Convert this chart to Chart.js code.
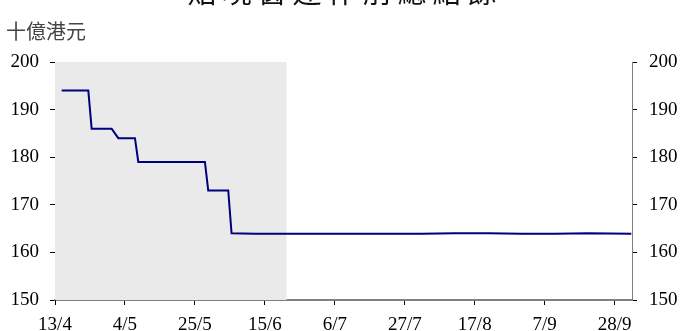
<!DOCTYPE html>
<html>
<head>
<meta charset="utf-8">
<script src="https://cdn.jsdelivr.net/npm/chart.js@4/dist/chart.umd.min.js"></script>
<style>
  html, body { margin: 0; padding: 0; background: #ffffff; }
  #wrap { position: relative; width: 681px; height: 331px; }
</style>
</head>
<body>
<div id="wrap"><canvas id="c" width="681" height="331"></canvas></div>
<script>
// Aggregate balance before discount window operations (HK$ billion)
const chartTitle = '貼現窗運作前總結餘';
const unitLabel = '十億港元';

// Day offsets counted from 13/4, and the balance on each of those days
const dayOffsets = [2, 10, 11, 17, 19, 24, 25, 45, 46, 52, 53, 60, 70, 80, 90, 100, 110, 120, 130, 140, 150, 160, 173];
const balances   = [194, 194, 186, 186, 184, 184, 179, 179, 173, 173, 164, 163.9, 163.9, 163.9, 163.9, 163.9, 163.9, 164, 164, 163.9, 163.9, 164, 163.9];

// Date labels placed every three weeks along the bottom axis
const tickLabels = ['13/4', '4/5', '25/5', '15/6', '6/7', '27/7', '17/8', '7/9', '28/9'];
const tickStepDays = 21;
const lastDay = 173.2;

// Period before the discount window was in operation (shaded)
const shadeStartDay = 0;
const shadeEndDay = 69.5;

const yMin = 150, yMax = 200, yStep = 10;

const points = dayOffsets.map((d, i) => ({ x: d, y: balances[i] }));

const shadePlugin = {
  id: 'shade',
  beforeDatasetsDraw(chart) {
    const { ctx, chartArea, scales } = chart;
    const x0 = scales.x.getPixelForValue(shadeStartDay);
    const x1 = scales.x.getPixelForValue(shadeEndDay);
    ctx.save();
    ctx.fillStyle = '#eaeaea';
    ctx.fillRect(x0, chartArea.top, x1 - x0, chartArea.bottom - chartArea.top);
    ctx.restore();
  }
};

const textPlugin = {
  id: 'texts',
  afterDraw(chart) {
    const { ctx } = chart;
    ctx.save();
    ctx.fillStyle = '#111111';
    ctx.font = '29px "Noto Sans CJK TC"';
    ctx.textAlign = 'center';
    ctx.textBaseline = 'alphabetic';
    if ('letterSpacing' in ctx) ctx.letterSpacing = '6px';
    ctx.fillText(chartTitle, 345, 3);
    if ('letterSpacing' in ctx) ctx.letterSpacing = '0px';
    ctx.fillStyle = '#444444';
    ctx.font = '20px "Noto Sans CJK TC"';
    ctx.textAlign = 'left';
    ctx.fillText(unitLabel, 6, 39);
    ctx.restore();
  }
};

const tickFont = { family: '"Liberation Serif", "Times New Roman", serif', size: 19 };

new Chart(document.getElementById('c'), {
  type: 'line',
  data: {
    datasets: [{
      data: points,
      borderColor: '#00007f',
      borderWidth: 2,
      pointRadius: 0,
      tension: 0,
      fill: false
    }]
  },
  options: {
    responsive: false,
    animation: false,
    events: [],
    layout: { padding: { top: 62, left: 0, right: 0, bottom: 0 } },
    plugins: { legend: { display: false }, tooltip: { enabled: false }, title: { display: false } },
    scales: {
      x: {
        type: 'linear',
        min: 0,
        max: lastDay,
        afterBuildTicks(scale) {
          scale.ticks = tickLabels.map((_, i) => ({ value: i * tickStepDays }));
        },
        afterFit(scale) { scale.height = 31; },
        border: { display: true, color: '#808080', width: 2 },
        grid: { display: true, drawOnChartArea: false, drawTicks: true, tickLength: 5, color: '#000000', tickWidth: 1 },
        ticks: {
          color: '#000000',
          font: tickFont,
          padding: 9,
          maxRotation: 0,
          autoSkip: false,
          callback(value) {
            const idx = Math.round(value / tickStepDays);
            return tickLabels[idx] !== undefined ? tickLabels[idx] : '';
          }
        }
      },
      y: {
        position: 'left',
        min: yMin,
        max: yMax,
        afterFit(scale) { scale.width = 55; },
        border: { display: true, color: '#000000', width: 1 },
        grid: { display: true, drawOnChartArea: false, drawTicks: true, tickLength: 5, color: '#000000' },
        ticks: { stepSize: yStep, color: '#000000', font: tickFont, padding: 11 }
      },
      y2: {
        position: 'right',
        min: yMin,
        max: yMax,
        afterFit(scale) { scale.width = 49; },
        border: { display: true, color: '#808080', width: 1 },
        grid: { display: true, drawOnChartArea: false, drawTicks: true, tickLength: 5, color: '#000000' },
        ticks: { stepSize: yStep, color: '#000000', font: tickFont, padding: 12 }
      }
    }
  },
  plugins: [shadePlugin, textPlugin]
});
</script>
</body>
</html>
